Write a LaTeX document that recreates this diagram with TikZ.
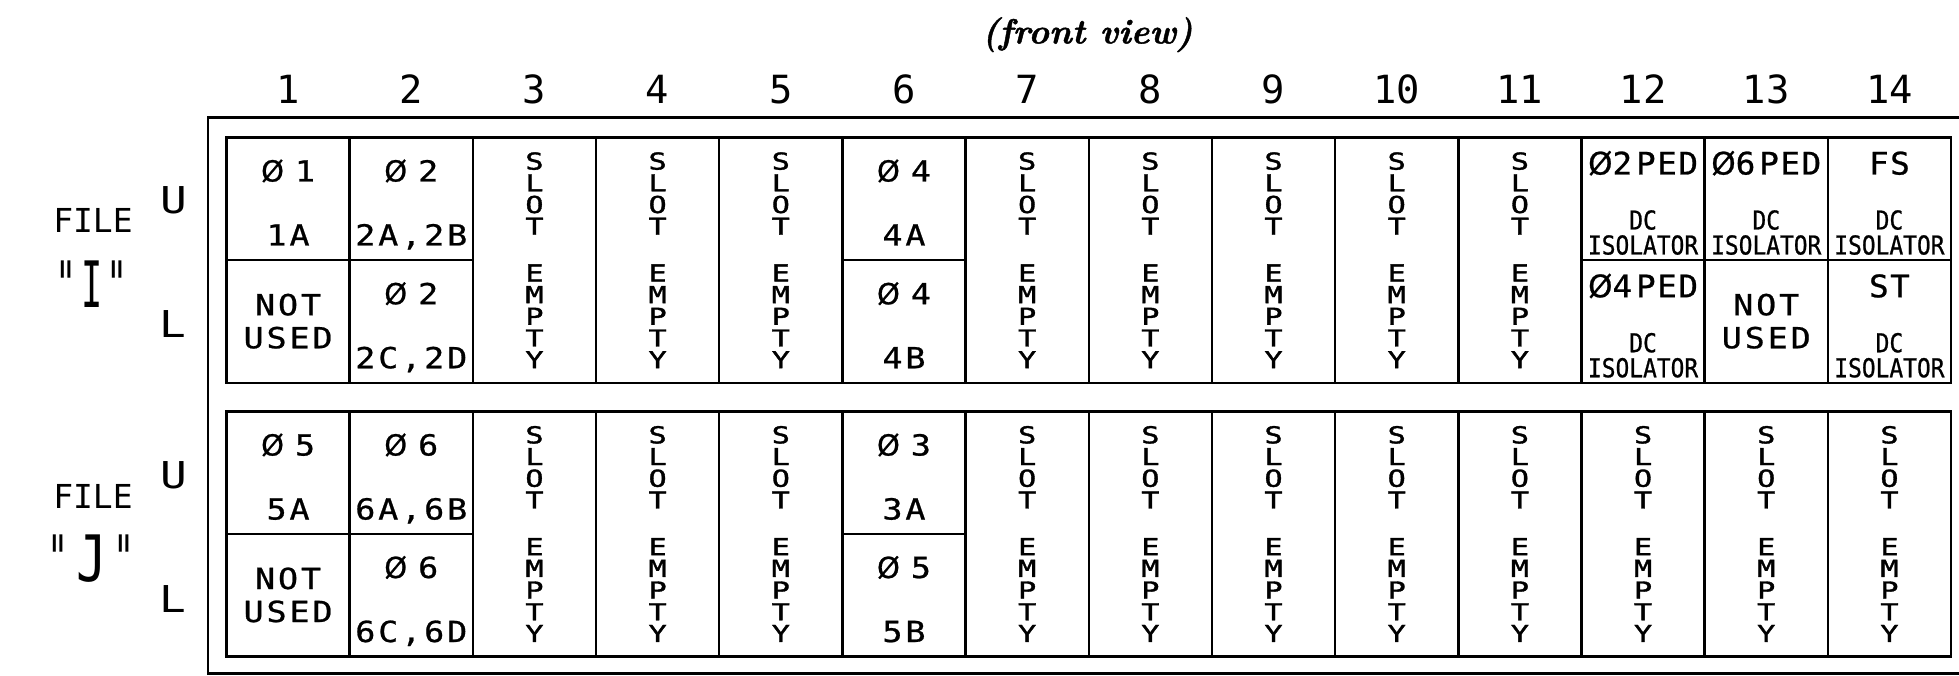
\documentclass[tikz,border=0pt]{standalone}
\usepackage{fontspec}
% CAD-style lettering built on DejaVu Sans Mono with different width factors
\newfontfamily\fmain[FakeStretch=1.15,LetterSpace=10,FakeBold=0.8]{DejaVu Sans Mono}
\newfontfamily\fped[FakeStretch=1.05,LetterSpace=5,FakeBold=0.8]{DejaVu Sans Mono}
\newfontfamily\fiso[FakeStretch=0.88,FakeBold=0.8]{DejaVu Sans Mono}
\newfontfamily\fslot[FakeStretch=1.3,FakeBold=1.5]{DejaVu Sans Mono}
\newfontfamily\fmono{DejaVu Sans Mono}
\newfontfamily\fwide[FakeStretch=1.2]{DejaVu Sans Mono}
\newfontfamily\fnarrow[FakeStretch=0.55]{DejaVu Sans Mono}
\newfontfamily\fjay[FakeStretch=0.8]{DejaVu Sans Mono}
\newfontfamily\fdia[FakeBold=0.8]{DejaVu Sans}
% heavier bold italic serif for the heading
\newfontfamily\ftitle[FakeBold=1.2]{lmroman10-bolditalic.otf}
% diameter sign
\newcommand\dsym{{\fdia Ø}}

% column centre (column index 1..14)
\newcommand\cx[1]{{226.5+123.18*(#1-0.5)}}

\begin{document}
\begin{tikzpicture}[x=1pt,y=-1pt,
  frame/.style={line width=2.6pt,line join=miter},
  gridline/.style={line width=2.4pt,line join=miter},
  maintxt/.style={font={\fmain\fontsize{29}{34}\selectfont},inner sep=0pt,anchor=base},
  pedtxt/.style={font={\fped\fontsize{31}{36}\selectfont},inner sep=0pt,anchor=base},
  isotxt/.style={font={\fiso\fontsize{26}{30}\selectfont},inner sep=0pt,anchor=base},
  slottxt/.style={font={\fslot\fontsize{23.3}{21.7}\selectfont},inner sep=0pt,align=center},
  numtxt/.style={font={\fmono\fontsize{38.8}{44}\selectfont},inner sep=0pt,anchor=base},
  filetxt/.style={font={\fmono\fontsize{33}{38}\selectfont},inner sep=0pt,anchor=base},
  rowtxt/.style={font={\fwide\fontsize{37}{42}\selectfont},inner sep=0pt,anchor=base},
  bigtxt/.style={font={\fontsize{64}{70}\selectfont},inner sep=0pt,anchor=base},
  titletxt/.style={font={\ftitle\fontsize{35}{40}\selectfont},inner sep=0pt,anchor=base}]

\useasboundingbox (0,0) rectangle (1959,676);

% ---- title and column numbers
\node[titletxt] (title) at (1087.5,43.5) {(front view)};
\foreach \c in {1,...,14}
  \node[numtxt] (num\c) at (\cx{\c},103.3) {\c};

% ---- outer frame (open to the right)
\draw[frame] (1975,117.5) -- (208,117.5) -- (208,673.5) -- (1975,673.5);

% ---- file I table
\draw[gridline] (226.5,137.5) rectangle (1951,383);
\foreach \i in {1,...,13}
  \draw[gridline] ({226.5+123.18*\i},137.5) -- ({226.5+123.18*\i},383);
\draw[gridline] (226.5,260.25) -- ({226.5+123.18*2},260.25);
\draw[gridline] ({226.5+123.18*5},260.25) -- ({226.5+123.18*6},260.25);
\draw[gridline] ({226.5+123.18*11},260.25) -- (1951,260.25);

% ---- file J table
\draw[gridline] (226.5,411.5) rectangle (1951,656.5);
\foreach \i in {1,...,13}
  \draw[gridline] ({226.5+123.18*\i},411.5) -- ({226.5+123.18*\i},656.5);
\draw[gridline] (226.5,534) -- ({226.5+123.18*2},534);
\draw[gridline] ({226.5+123.18*5},534) -- ({226.5+123.18*6},534);

% ---- side labels
\node[filetxt] (fileI) at (93,233) {FILE};
\node[bigtxt] (nameI) at (91.7,307) {\fnarrow"\kern4pt I\kern4pt"};
\node[rowtxt] (upI) at (173.7,214) {U};
\node[rowtxt] (loI) at (172.5,337) {L};

\node[filetxt] (fileJ) at (93,508) {FILE};
\node[bigtxt] (nameJ) at (91.5,581) {\fnarrow"\kern7pt\fjay J\kern7pt\fnarrow"};
\node[rowtxt] (upJ) at (173.7,488) {U};
\node[rowtxt] (loJ) at (172.5,612) {L};

% ---- file I, upper row
\node[maintxt] (i1ua) at (\cx{1},{137.5+44}) {\dsym\kern11pt 1};
\node[maintxt] (i1ub) at (\cx{1},{137.5+108}) {1A};
\node[maintxt] (i2ua) at (\cx{2},{137.5+44}) {\dsym\kern11pt 2};
\node[maintxt] (i2ub) at (\cx{2},{137.5+108}) {2A,2B};
\node[maintxt] (i6ua) at (\cx{6},{137.5+44}) {\dsym\kern11pt 4};
\node[maintxt] (i6ub) at (\cx{6},{137.5+108}) {4A};
\node[pedtxt] (i12ua) at (\cx{12},{137.5+37}) {\dsym 2\kern4pt PED};
\node[isotxt] (i12ub) at (\cx{12},{137.5+92}) {DC};
\node[isotxt] (i12uc) at (\cx{12},{137.5+117}) {ISOLATOR};
\node[pedtxt] (i13ua) at (\cx{13},{137.5+37}) {\dsym 6\kern4pt PED};
\node[isotxt] (i13ub) at (\cx{13},{137.5+92}) {DC};
\node[isotxt] (i13uc) at (\cx{13},{137.5+117}) {ISOLATOR};
\node[pedtxt] (i14ua) at (\cx{14},{137.5+37}) {FS};
\node[isotxt] (i14ub) at (\cx{14},{137.5+92}) {DC};
\node[isotxt] (i14uc) at (\cx{14},{137.5+117}) {ISOLATOR};

% ---- file I, lower row
\node[maintxt] (i1la) at (\cx{1},{260.25+55}) {NOT};
\node[maintxt] (i1lb) at (\cx{1},{260.25+88}) {USED};
\node[maintxt] (i2la) at (\cx{2},{260.25+44}) {\dsym\kern11pt 2};
\node[maintxt] (i2lb) at (\cx{2},{260.25+108}) {2C,2D};
\node[maintxt] (i6la) at (\cx{6},{260.25+44}) {\dsym\kern11pt 4};
\node[maintxt] (i6lb) at (\cx{6},{260.25+108}) {4B};
\node[pedtxt] (i12la) at (\cx{12},{260.25+37}) {\dsym 4\kern4pt PED};
\node[isotxt] (i12lb) at (\cx{12},{260.25+92}) {DC};
\node[isotxt] (i12lc) at (\cx{12},{260.25+117}) {ISOLATOR};
\node[maintxt] (i13la) at (\cx{13},{260.25+55}) {NOT};
\node[maintxt] (i13lb) at (\cx{13},{260.25+88}) {USED};
\node[pedtxt] (i14la) at (\cx{14},{260.25+37}) {ST};
\node[isotxt] (i14lb) at (\cx{14},{260.25+92}) {DC};
\node[isotxt] (i14lc) at (\cx{14},{260.25+117}) {ISOLATOR};

% ---- file J, upper row
\node[maintxt] (j1ua) at (\cx{1},{411.5+44}) {\dsym\kern11pt 5};
\node[maintxt] (j1ub) at (\cx{1},{411.5+108}) {5A};
\node[maintxt] (j2ua) at (\cx{2},{411.5+44}) {\dsym\kern11pt 6};
\node[maintxt] (j2ub) at (\cx{2},{411.5+108}) {6A,6B};
\node[maintxt] (j6ua) at (\cx{6},{411.5+44}) {\dsym\kern11pt 3};
\node[maintxt] (j6ub) at (\cx{6},{411.5+108}) {3A};

% ---- file J, lower row
\node[maintxt] (j1la) at (\cx{1},{534+55}) {NOT};
\node[maintxt] (j1lb) at (\cx{1},{534+88}) {USED};
\node[maintxt] (j2la) at (\cx{2},{534+44}) {\dsym\kern11pt 6};
\node[maintxt] (j2lb) at (\cx{2},{534+108}) {6C,6D};
\node[maintxt] (j6la) at (\cx{6},{534+44}) {\dsym\kern11pt 5};
\node[maintxt] (j6lb) at (\cx{6},{534+108}) {5B};

% ---- empty slots (vertical lettering)
\foreach \c in {3,4,5,7,8,9,10,11}
  \node[slottxt] (slotI\c) at (\cx{\c},260.25) {S\\L\\O\\T\\[25pt]E\\M\\P\\T\\Y};
\foreach \c in {3,4,5,7,8,9,10,11,12,13,14}
  \node[slottxt] (slotJ\c) at (\cx{\c},534) {S\\L\\O\\T\\[25pt]E\\M\\P\\T\\Y};

\end{tikzpicture}
\end{document}
